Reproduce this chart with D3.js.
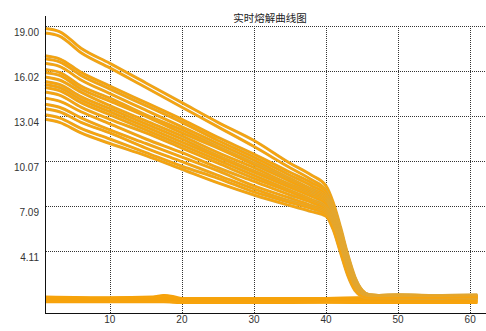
<!DOCTYPE html>
<html>
<head>
<meta charset="utf-8">
<script src="https://cdn.jsdelivr.net/npm/d3@7"></script>
<style>
  body { margin: 0; background: #fff; }
  svg { display: block; }
</style>
</head>
<body>
<script>
const title = "实时熔解曲线图";

const yTicks = [19.00, 16.02, 13.04, 10.07, 7.09, 4.11];
const xTicks = [10, 20, 30, 40, 50, 60];

const meltX = [1, 3, 6, 10, 15, 20, 25, 30, 35, 38, 40, 41, 42, 43, 44, 45, 46, 50, 55, 61];

const meltCurves = [
    [18.8, 18.6, 17.5, 16.5, 15.2, 13.9, 12.6, 11.4, 9.9, 9.1, 8.4, 7.3, 5.7, 3.9, 2.4, 1.5, 1.2, 1.1, 1.1, 1.1],
    [18.5, 18.3, 17.2, 16.2, 14.9, 13.6, 12.3, 11.0, 9.6, 8.8, 8.1, 7.0, 5.5, 3.8, 2.3, 1.5, 1.2, 1.1, 1.1, 1.05],
    [17.0, 16.8, 15.9, 15.0, 13.9, 12.8, 11.6, 10.5, 9.3, 8.6, 8.0, 6.9, 5.4, 3.7, 2.3, 1.4, 1.2, 1.1, 1.05, 1.05],
    [16.8, 16.6, 15.7, 14.8, 13.7, 12.6, 11.4, 10.3, 9.1, 8.4, 7.8, 6.8, 5.3, 3.6, 2.2, 1.4, 1.15, 1.1, 1.05, 1.0],
    [16.5, 16.3, 15.4, 14.5, 13.4, 12.3, 11.2, 10.1, 8.9, 8.2, 7.7, 6.7, 5.2, 3.5, 2.1, 1.35, 1.15, 1.15, 1.1, 1.1],
    [16.1, 15.9, 15.0, 14.2, 13.1, 12.1, 11.0, 9.9, 8.8, 8.1, 7.6, 6.6, 5.1, 3.4, 2.1, 1.3, 1.15, 1.2, 1.15, 1.1],
    [15.9, 15.7, 14.8, 14.0, 13.0, 11.9, 10.9, 9.8, 8.7, 8.0, 7.5, 6.5, 5.0, 3.3, 2.0, 1.3, 1.1, 1.05, 1.0, 1.05],
    [15.6, 15.4, 14.6, 13.7, 12.7, 11.7, 10.6, 9.6, 8.5, 7.9, 7.4, 6.4, 4.9, 3.2, 2.0, 1.3, 1.1, 1.1, 1.05, 1.0],
    [15.3, 15.1, 14.3, 13.5, 12.5, 11.5, 10.4, 9.4, 8.4, 7.8, 7.3, 6.3, 4.8, 3.2, 1.9, 1.25, 1.15, 1.2, 1.15, 1.2],
    [15.1, 14.9, 14.1, 13.3, 12.3, 11.3, 10.3, 9.3, 8.3, 7.7, 7.2, 6.2, 4.7, 3.1, 1.9, 1.25, 1.1, 1.0, 1.0, 1.05],
    [14.9, 14.7, 13.9, 13.1, 12.1, 11.1, 10.1, 9.1, 8.1, 7.5, 7.0, 6.1, 4.6, 3.0, 1.8, 1.2, 1.1, 1.1, 1.1, 1.15],
    [14.6, 14.4, 13.6, 12.8, 11.9, 10.9, 9.9, 8.9, 8.0, 7.4, 6.9, 6.0, 4.5, 2.9, 1.8, 1.2, 1.1, 1.05, 1.0, 1.0],
    [14.2, 14.0, 13.3, 12.5, 11.5, 10.6, 9.6, 8.7, 7.8, 7.3, 6.8, 5.9, 4.4, 2.8, 1.7, 1.2, 1.1, 1.15, 1.1, 1.1],
    [13.8, 13.6, 12.9, 12.1, 11.2, 10.3, 9.4, 8.4, 7.6, 7.1, 6.7, 5.8, 4.3, 2.8, 1.7, 1.15, 1.05, 1.0, 1.05, 1.0],
    [13.5, 13.3, 12.6, 11.9, 10.9, 10.0, 9.1, 8.2, 7.4, 7.0, 6.6, 5.7, 4.2, 2.7, 1.6, 1.15, 1.1, 1.1, 1.0, 1.05],
    [13.1, 12.9, 12.2, 11.5, 10.6, 9.7, 8.9, 8.0, 7.3, 6.9, 6.5, 5.6, 4.1, 2.6, 1.6, 1.1, 1.05, 1.05, 1.1, 1.1],
    [12.8, 12.6, 11.9, 11.2, 10.4, 9.5, 8.6, 7.8, 7.1, 6.7, 6.4, 5.5, 4.0, 2.5, 1.5, 1.1, 1.0, 1.0, 1.0, 1.05]
];

// flat no-template wells along the bottom
const baseX = [1, 10, 16, 17.5, 19, 20, 30, 40, 50, 61];

const baseCurves = [
    [1.05, 1.0, 1.05, 1.15, 1.05, 0.95, 0.95, 0.95, 1.05, 1.1],
    [0.95, 0.95, 1.0, 1.1, 0.95, 0.9, 0.9, 0.9, 0.95, 1.0],
    [0.9, 0.9, 0.9, 0.95, 0.85, 0.85, 0.85, 0.85, 0.9, 0.9],
    [0.85, 0.85, 0.85, 0.85, 0.8, 0.8, 0.8, 0.8, 0.8, 0.85],
    [0.8, 0.8, 0.8, 0.8, 0.75, 0.75, 0.75, 0.75, 0.75, 0.75],
    [0.75, 0.75, 0.75, 0.75, 0.72, 0.7, 0.7, 0.72, 0.7, 0.7]
];

const width = 486;
const height = 331;

var svg = d3.select("body").append("svg")
    .attr("width", width)
    .attr("height", height);

var x = d3.scaleLinear().domain([1, 62.2]).range([45, 486]);
var y = d3.scaleLinear().domain([0, 19]).range([313, 25.5]);

// grid
var grid = svg.append("g")
    .attr("stroke", "#333")
    .attr("stroke-width", 1)
    .attr("stroke-dasharray", "1,1");

grid.selectAll(".hg")
    .data(yTicks)
    .enter().append("line")
    .attr("x1", 46)
    .attr("x2", width)
    .attr("y1", d => Math.round(y(d)) + 0.5)
    .attr("y2", d => Math.round(y(d)) + 0.5);

grid.selectAll(".vg")
    .data(xTicks)
    .enter().append("line")
    .attr("x1", d => Math.round(x(d)) + 0.5)
    .attr("x2", d => Math.round(x(d)) + 0.5)
    .attr("y1", Math.round(y(19)))
    .attr("y2", 313);

var line = d3.line()
    .x(d => x(d[0]))
    .y(d => y(d[1]))
    .curve(d3.curveMonotoneX);

var curves = svg.append("g");

function drawCurve(xs, vals, edge, w) {
    let pts = vals.map((v, i) => [xs[i], v]);
    curves.append("path")
        .datum(pts)
        .attr("d", line)
        .attr("fill", "none")
        .attr("stroke", edge)
        .attr("stroke-width", w)
        .attr("stroke-linejoin", "round");
    curves.append("path")
        .datum(pts)
        .attr("d", line)
        .attr("fill", "none")
        .attr("stroke", "#f8a30c")
        .attr("stroke-width", w - 1.2)
        .attr("stroke-linejoin", "round");
}

baseCurves.forEach(c => drawCurve(baseX, c, "#f5a20a", 3.4));
meltCurves.forEach(c => drawCurve(meltX, c, "#dfa838", 3.0));

// axes lines
svg.append("line")
    .attr("x1", 45.5).attr("x2", 45.5)
    .attr("y1", 16).attr("y2", 314)
    .attr("stroke", "#111");

svg.append("line")
    .attr("x1", 45).attr("x2", width)
    .attr("y1", 313.5).attr("y2", 313.5)
    .attr("stroke", "#111");

// tick labels
svg.selectAll(".ylab")
    .data(yTicks)
    .enter().append("text")
    .attr("x", 39)
    .attr("y", d => y(d) + 10)
    .attr("text-anchor", "end")
    .attr("font-family", "Liberation Sans, Arial, sans-serif")
    .attr("font-size", 10)
    .attr("fill", "#333")
    .text(d => d.toFixed(2));

svg.selectAll(".xlab")
    .data(xTicks)
    .enter().append("text")
    .attr("x", d => x(d))
    .attr("y", 323)
    .attr("text-anchor", "middle")
    .attr("font-family", "Liberation Sans, Arial, sans-serif")
    .attr("font-size", 10)
    .attr("fill", "#333")
    .text(d => d);

svg.append("text")
    .attr("x", 270)
    .attr("y", 21.5)
    .attr("text-anchor", "middle")
    .attr("font-family", "Noto Sans CJK SC, sans-serif")
    .attr("font-size", 10.5)
    .attr("fill", "#222")
    .text(title);
</script>
</body>
</html>
